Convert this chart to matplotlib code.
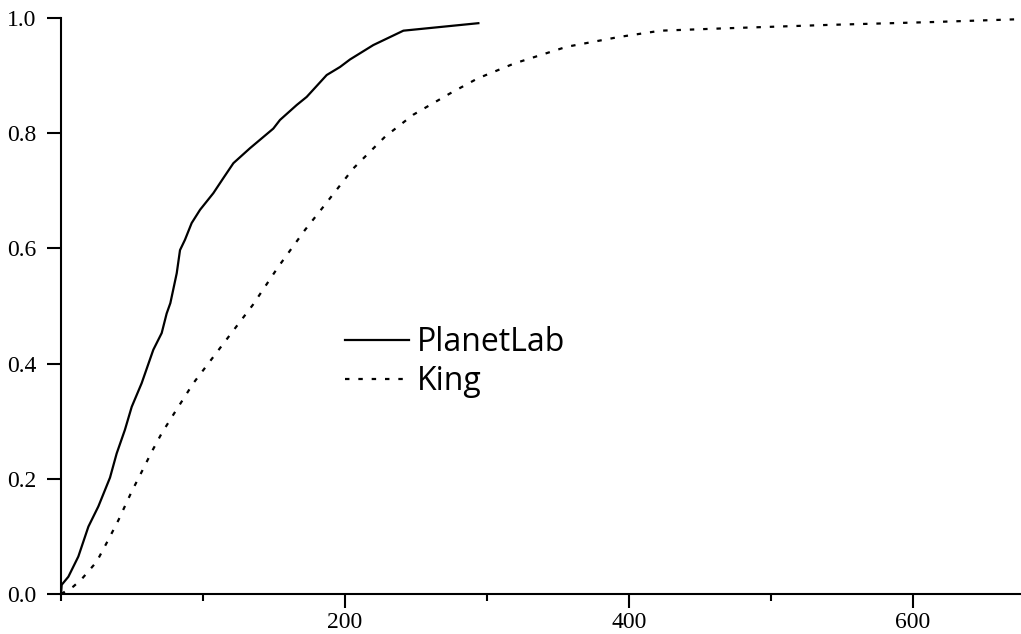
import numpy as np
import matplotlib
matplotlib.use("Agg")
from matplotlib import pyplot as plt
from matplotlib.ticker import MultipleLocator

# latency CDF
planetlab_x = [0, 0.5, 5.2, 12.2, 19.3, 26.3, 34.5, 39.2, 45, 49.8, 56.8, 65, 70.9, 74.4,
               77, 81.5, 83.8, 87.3, 92, 97.9, 107.3, 114.3, 121.4, 133.1, 149.5, 154.2,
               166, 173, 187.1, 196.5, 203.5, 219.9, 241.1, 293.9]
planetlab_y = [0, 0.016, 0.030, 0.065, 0.117, 0.152, 0.202, 0.244, 0.285, 0.325, 0.366, 0.424,
               0.453, 0.487, 0.505, 0.557, 0.597, 0.615, 0.644, 0.667, 0.696, 0.722, 0.748,
               0.774, 0.808, 0.823, 0.849, 0.863, 0.901, 0.915, 0.928, 0.953, 0.978, 0.991]

king_x = [0, 2.8, 8.7, 14.6, 25.1, 33.3, 40.4, 49.8, 56.8, 63.9, 70.9, 80.3, 93.2, 135.1,
          153, 171.8, 184, 205.9, 228.2, 248, 273.9, 293.3, 309.2, 319.1, 356, 392.8,
          422.3, 466.6, 540.4, 614, 676]
king_y = [0, 0.004, 0.013, 0.026, 0.056, 0.094, 0.128, 0.178, 0.212, 0.247, 0.279, 0.316,
          0.366, 0.502, 0.568, 0.632, 0.67, 0.739, 0.794, 0.832, 0.869, 0.895, 0.911,
          0.921, 0.950, 0.967, 0.978, 0.982, 0.988, 0.993, 0.998]

fig = plt.figure(figsize=(10.21, 6.34), dpi=100)
ax = fig.add_axes([61 / 1021, 40 / 634, 960 / 1021, 576 / 634])

ax.plot(planetlab_x, planetlab_y, color="black", lw=1.6, label="PlanetLab")
ax.plot(king_x, king_y, color="black", lw=1.6, dashes=(2, 4), label="King")

ax.set_xlim(0, 676)
ax.set_ylim(0, 1.0)
ax.spines["top"].set_visible(False)
ax.spines["right"].set_visible(False)
ax.spines["left"].set_linewidth(1.5)
ax.spines["bottom"].set_linewidth(1.5)

ax.xaxis.set_minor_locator(MultipleLocator(100))
ax.set_yticks([0, 0.2, 0.4, 0.6, 0.8, 1.0])
ax.set_yticklabels(["0.0", "0.2", "0.4", "0.6", "0.8", "1.0"])
ax.set_xticks([200, 400, 600])
ax.tick_params(which="major", direction="out", length=10, width=1.5, labelsize=17)
ax.tick_params(axis="x", pad=3)
ax.tick_params(axis="y", pad=8)
ax.tick_params(which="minor", direction="out", length=5, width=1.5)
for lbl in ax.get_xticklabels() + ax.get_yticklabels():
    lbl.set_family(["Liberation Serif", "DejaVu Serif"])

leg = ax.legend(loc="center left", bbox_to_anchor=(345 / 1021, 1 - 362 / 634),
                bbox_transform=fig.transFigure, frameon=False, borderpad=0,
                borderaxespad=0, handlelength=2.0, handletextpad=0.25, labelspacing=0.2,
                prop={"family": ["Open Sans", "DejaVu Sans"], "size": 23})

fig.savefig("out.png", dpi=100)
